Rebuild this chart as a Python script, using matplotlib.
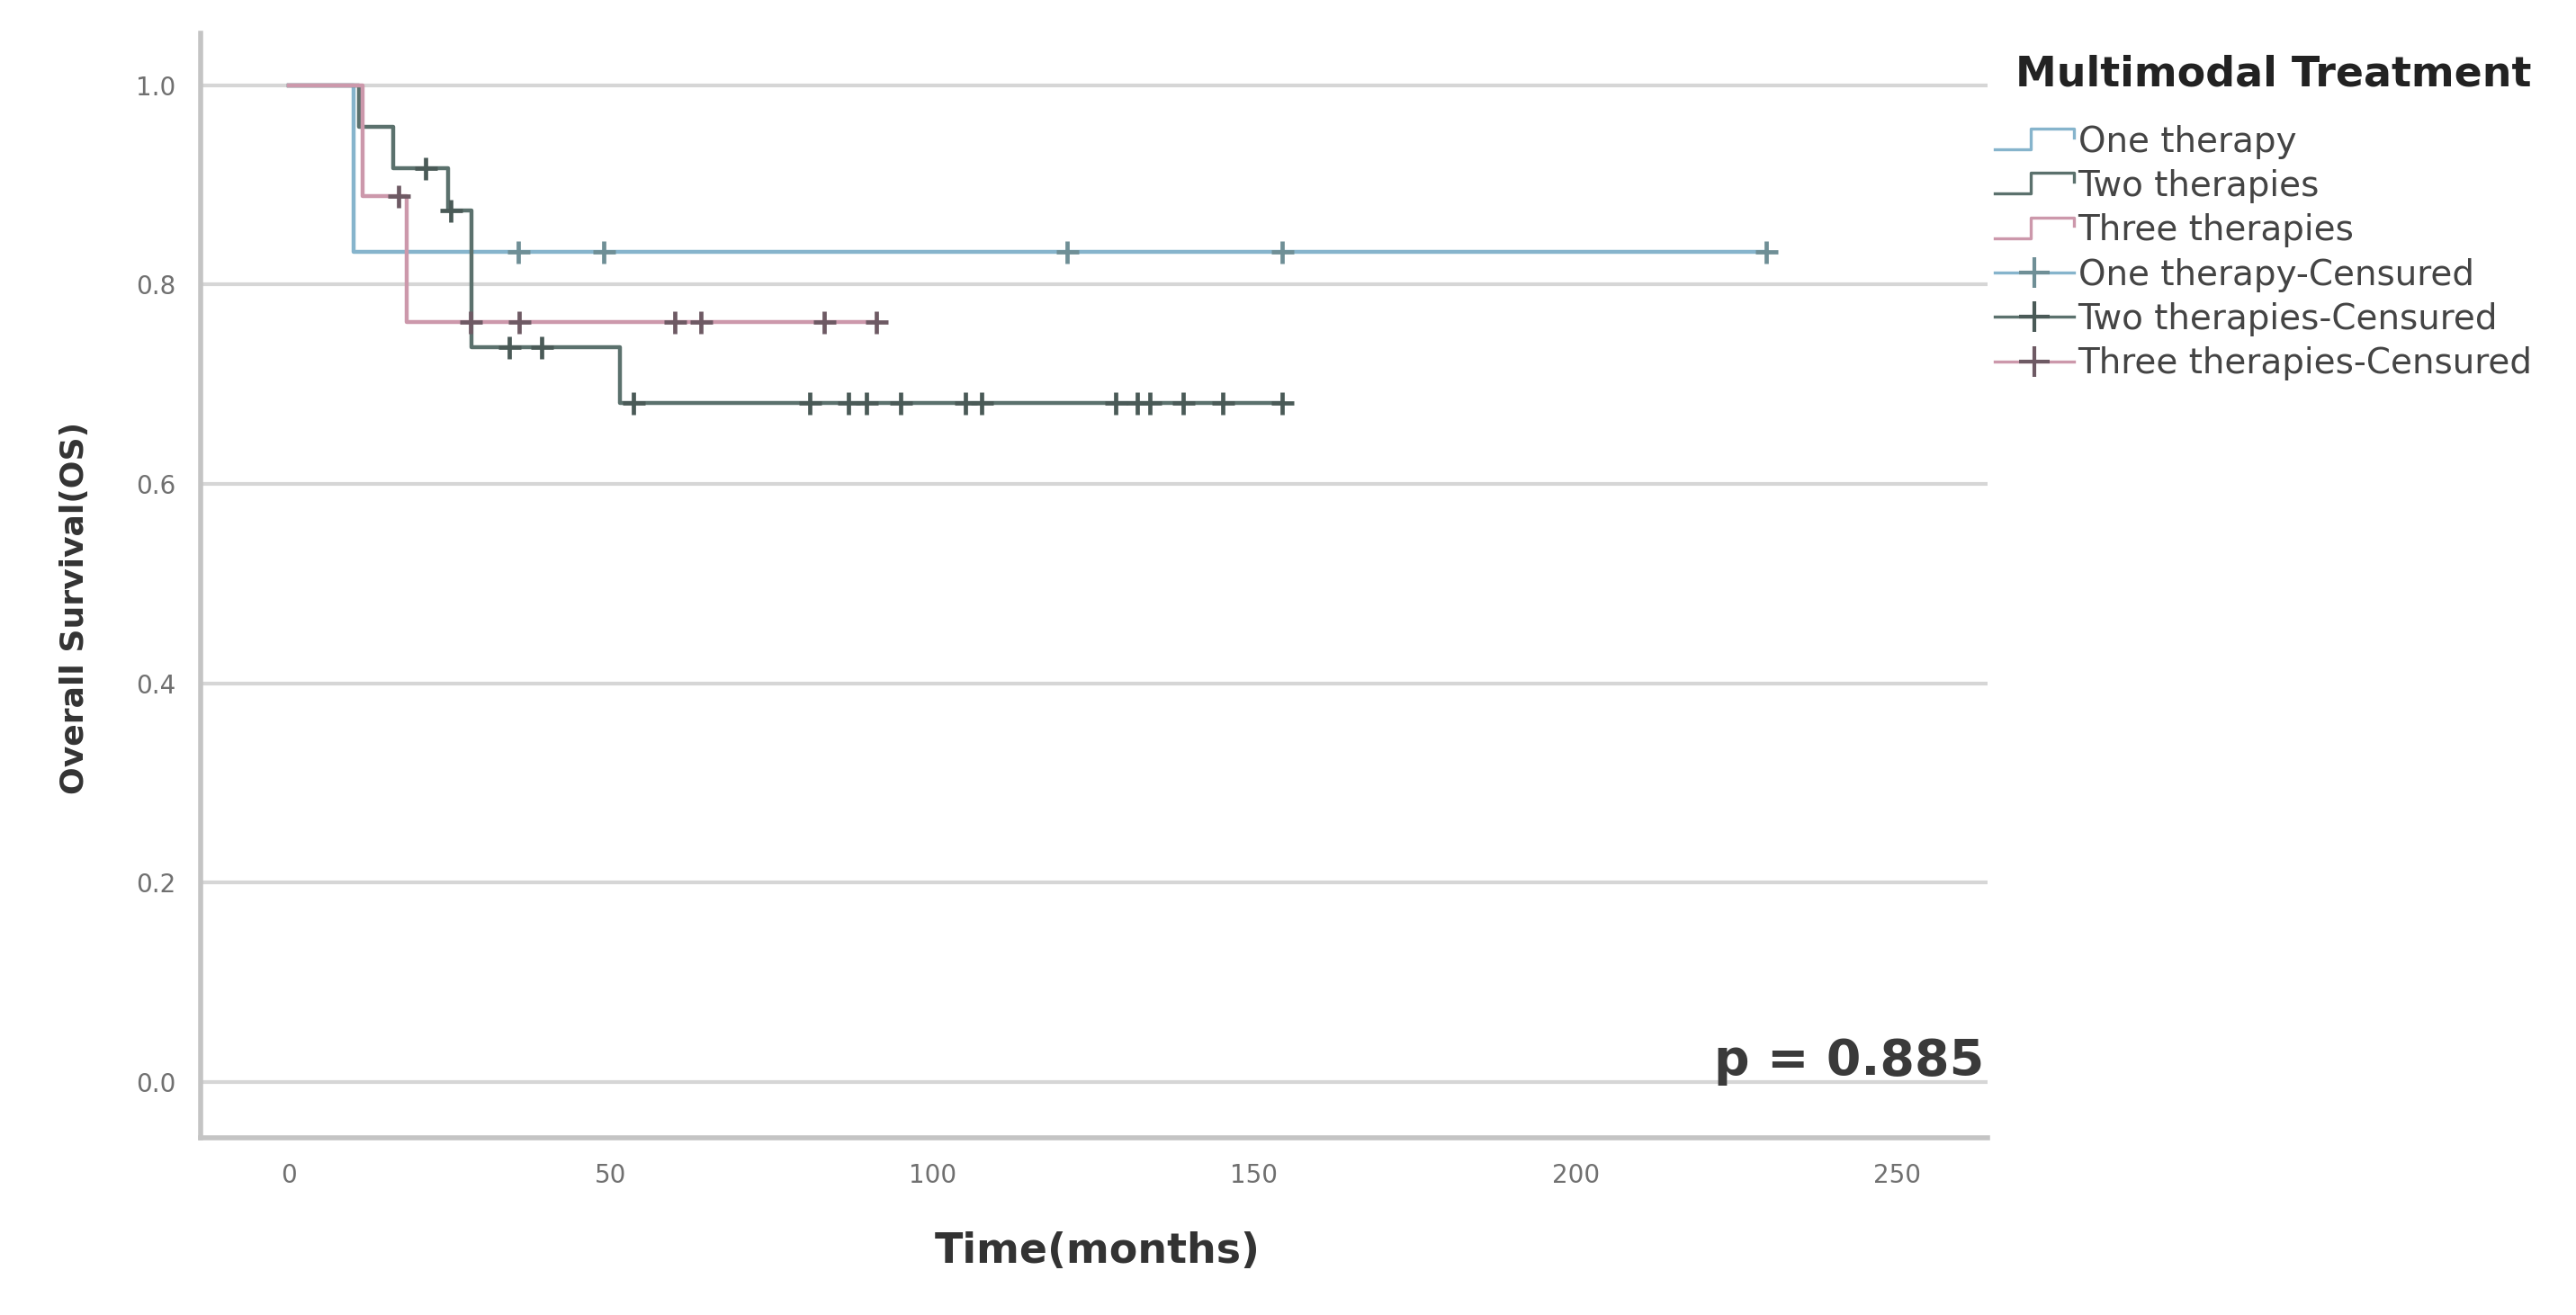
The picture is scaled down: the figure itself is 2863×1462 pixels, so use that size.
import matplotlib
matplotlib.use("Agg")
import matplotlib.pyplot as plt
from matplotlib.lines import Line2D
from matplotlib.legend_handler import HandlerBase

# Kaplan-Meier steps (months, survival)
one_t = [0, 10.1, 229.6]
one_s = [1.0, 0.833, 0.833]
one_cens_t = [35.7, 49.0, 121.0, 154.3, 229.6]
one_cens_s = [0.833, 0.833, 0.833, 0.833, 0.833]

two_t = [0, 10.9, 16.2, 24.7, 28.4, 51.5, 154.3]
two_s = [1.0, 0.958, 0.917, 0.874, 0.737, 0.681, 0.681]
two_cens_t = [21.3, 25.2, 34.3, 39.3, 53.6, 81.0, 86.9, 89.8, 95.1,
              105.2, 107.7, 128.5, 131.8, 133.8, 139.0, 145.2, 154.3]
two_cens_s = [0.917, 0.874, 0.737, 0.737, 0.681, 0.681, 0.681, 0.681, 0.681,
              0.681, 0.681, 0.681, 0.681, 0.681, 0.681, 0.681, 0.681]

three_t = [0, 11.5, 18.3, 91.3]
three_s = [1.0, 0.889, 0.762, 0.762]
three_cens_t = [17.1, 28.3, 35.8, 60.0, 64.1, 83.2, 91.3]
three_cens_s = [0.889, 0.762, 0.762, 0.762, 0.762, 0.762, 0.762]

labels = ["One therapy", "Two therapies", "Three therapies",
          "One therapy-Censured", "Two therapies-Censured", "Three therapies-Censured"]
legend_title = "Multimodal Treatment"
p_text = "p = 0.885"

c_one, c_two, c_three = "#86b4cc", "#5b716d", "#cc98ab"
m_one, m_two, m_three = "#6f8f96", "#4a5a57", "#6e5a64"


class StepHandler(HandlerBase):
    # little "_|‾|" icon like SPSS uses for survival lines
    def create_artists(self, legend, orig_handle, xdescent, ydescent,
                       width, height, fontsize, trans):
        x0, y0 = -xdescent, -ydescent
        xs = [x0, x0 + 0.45 * width, x0 + 0.45 * width, x0 + width, x0 + width]
        ys = [y0 + 0.1 * height, y0 + 0.1 * height, y0 + 0.95 * height,
              y0 + 0.95 * height, y0 + 0.6 * height]
        ln = Line2D(xs, ys, color=orig_handle.get_color(),
                    lw=orig_handle.get_linewidth(), transform=trans)
        return [ln]


fig = plt.figure(figsize=(28.63, 14.62), dpi=100)
ax = fig.add_axes([0.0779, 0.1347, 0.6937, 0.8400])

lw = 3.2
ax.step(one_t, one_s, where="post", color=c_one, lw=lw)
ax.step(two_t, two_s, where="post", color=c_two, lw=lw)
ax.step(three_t, three_s, where="post", color=c_three, lw=lw)

ms, mew = 18, 3.4
ax.plot(one_cens_t, one_cens_s, ls="none", marker="+", ms=ms, mew=mew, color=m_one)
ax.plot(two_cens_t, two_cens_s, ls="none", marker="+", ms=ms, mew=mew, color=m_two)
ax.plot(three_cens_t, three_cens_s, ls="none", marker="+", ms=ms, mew=mew, color=m_three)

ax.set_xlim(-13.7, 264.0)
ax.set_ylim(-0.056, 1.052)
ax.set_xticks([0, 50, 100, 150, 200, 250])
ax.set_yticks([0.0, 0.2, 0.4, 0.6, 0.8, 1.0])
ax.set_yticklabels(["0.0", "0.2", "0.4", "0.6", "0.8", "1.0"])
ax.tick_params(length=0, labelsize=20, labelcolor="#707070", pad=20)

ax.yaxis.grid(True, color="#d6d6d6", lw=3)
ax.set_axisbelow(True)
for s in ["top", "right"]:
    ax.spines[s].set_visible(False)
for s in ["left", "bottom"]:
    ax.spines[s].set_color("#c4c4c4")
    ax.spines[s].set_linewidth(4)

ax.set_ylabel("Overall Survival(OS)", fontsize=26, fontweight="bold", color="#333333")
ax.yaxis.set_label_coords(-0.062, 0.48)
ax.set_xlabel("Time(months)", fontsize=33, fontweight="bold", color="#333333")
ax.xaxis.set_label_coords(0.502, -0.085)

ax.text(0.998, 0.047, p_text, transform=ax.transAxes, ha="right", va="bottom",
        fontsize=40, fontweight="bold", color="#3a3a3a")

fig.text(0.8827, 0.943, legend_title, ha="center", va="center",
         fontsize=33, fontweight="bold", color="#222222")

h1 = Line2D([], [], color=c_one, lw=2.4)
h2 = Line2D([], [], color=c_two, lw=2.4)
h3 = Line2D([], [], color=c_three, lw=2.4)
h4 = Line2D([], [], color=c_one, lw=2.4, marker="+", ms=24, mew=3, mec=m_one)
h5 = Line2D([], [], color=c_two, lw=2.4, marker="+", ms=24, mew=3, mec=m_two)
h6 = Line2D([], [], color=c_three, lw=2.4, marker="+", ms=24, mew=3, mec=m_three)

step_h = StepHandler()
leg = fig.legend([h1, h2, h3, h4, h5, h6], labels,
                 handler_map={h1: step_h, h2: step_h, h3: step_h},
                 loc="upper left", bbox_to_anchor=(0.7745, 0.905),
                 frameon=False, fontsize=28,
                 handlelength=2.25, handletextpad=0.12,
                 labelspacing=0.29, borderpad=0, borderaxespad=0, numpoints=1)
for t in leg.get_texts():
    t.set_color("#444444")

fig.savefig("out.png", dpi=100)
